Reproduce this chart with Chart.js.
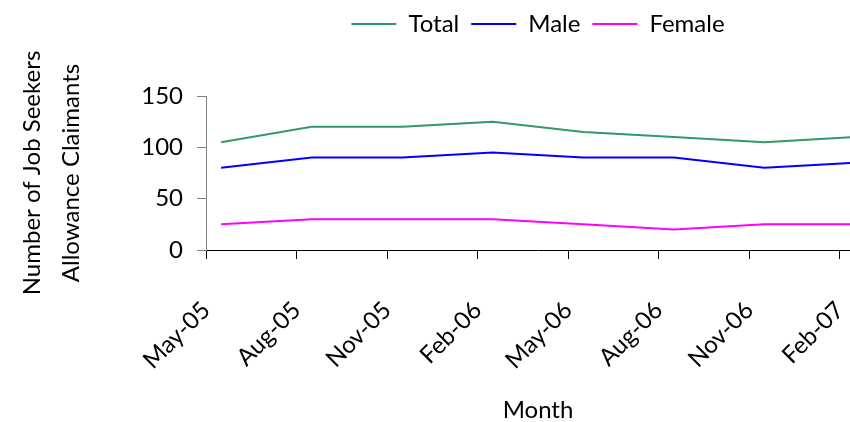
<!DOCTYPE html>
<html>
<head>
<meta charset="utf-8">
<script src="https://cdn.jsdelivr.net/npm/chart.js@4"></script>
<style>
    html, body { margin: 0; padding: 0; background: #fff; overflow: hidden; }
    #wrap { width: 900px; height: 422px; }
</style>
</head>
<body>
<div id="wrap"><canvas id="claimantsChart" width="900" height="422"></canvas></div>
<script>
// Quarterly axis labels, placed at month offsets from May-05
const tickLabels = ['May-05', 'Aug-05', 'Nov-05', 'Feb-06', 'May-06', 'Aug-06', 'Nov-06', 'Feb-07'];
const tickMonths = [0, 3, 6, 9, 12, 15, 18, 21];

// Counts are taken mid-month
const pointMonths = [0.5, 3.5, 6.5, 9.5, 12.5, 15.5, 18.5, 21.5];
const totalClaimants = [105, 120, 120, 125, 115, 110, 105, 110];
const maleClaimants = [80, 90, 90, 95, 90, 90, 80, 85];
const femaleClaimants = [25, 30, 30, 30, 25, 20, 25, 25];

function toPoints(values) {
    return values.map((v, i) => ({ x: pointMonths[i], y: v }));
}

document.addEventListener('DOMContentLoaded', function () {
    Chart.defaults.font.family = 'Lato, "Open Sans", sans-serif';
    Chart.defaults.font.size = 24;
    Chart.defaults.color = '#000';

    // leave room between the legend and the plot
    const legendSpacer = {
        id: 'legendSpacer',
        beforeInit(chart) {
            const originalFit = chart.legend.fit;
            chart.legend.fit = function fit() {
                originalFit.bind(chart.legend)();
                this.height += 50;
            };
        }
    };

    const ctx = document.getElementById('claimantsChart').getContext('2d');
    new Chart(ctx, {
        type: 'line',
        data: {
            datasets: [{
                label: 'Total',
                data: toPoints(totalClaimants),
                borderColor: '#339966',
                backgroundColor: '#339966',
                borderWidth: 2,
                pointRadius: 0,
                tension: 0
            }, {
                label: 'Male',
                data: toPoints(maleClaimants),
                borderColor: '#0000ff',
                backgroundColor: '#0000ff',
                borderWidth: 2,
                pointRadius: 0,
                tension: 0
            }, {
                label: 'Female',
                data: toPoints(femaleClaimants),
                borderColor: '#ff00ff',
                backgroundColor: '#ff00ff',
                borderWidth: 2,
                pointRadius: 0,
                tension: 0
            }]
        },
        options: {
            responsive: false,
            animation: false,
            devicePixelRatio: 1,
            layout: {
                padding: { left: 0, right: 30, top: 0, bottom: 0 }
            },
            scales: {
                x: {
                    type: 'linear',
                    min: 0,
                    max: 22,
                    afterBuildTicks: (scale) => {
                        scale.ticks = tickMonths.map(v => ({ value: v }));
                    },
                    afterFit: (scale) => {
                        scale.height = 172;
                    },
                    ticks: {
                        autoSkip: false,
                        minRotation: 45,
                        maxRotation: 45,
                        padding: 37,
                        callback: (value) => tickLabels[tickMonths.indexOf(value)]
                    },
                    grid: {
                        drawOnChartArea: false,
                        drawTicks: true,
                        tickLength: 9,
                        tickColor: '#000'
                    },
                    border: { color: '#000', width: 1 },
                    title: {
                        display: true,
                        text: 'Month',
                        font: { size: 24, lineHeight: 1 },
                        padding: 0
                    }
                },
                y: {
                    min: 0,
                    max: 150,
                    afterFit: (scale) => {
                        scale.width = 206;
                    },
                    ticks: {
                        stepSize: 50,
                        padding: 14
                    },
                    grid: {
                        drawOnChartArea: false,
                        drawTicks: true,
                        tickLength: 9,
                        tickColor: '#808080'
                    },
                    border: { color: '#808080', width: 1 },
                    title: {
                        display: true,
                        text: ['Number of Job Seekers', 'Allowance Claimants'],
                        font: { size: 24, lineHeight: 1.65 },
                        padding: { top: 12 }
                    }
                }
            },
            plugins: {
                legend: {
                    position: 'top',
                    fullSize: false,
                    labels: {
                        boxWidth: 45,
                        boxHeight: 2,
                        padding: 12,
                        generateLabels: (chart) => {
                            const items = Chart.defaults.plugins.legend.labels.generateLabels(chart);
                            items.forEach(item => { item.lineWidth = 0; });
                            return items;
                        }
                    }
                },
                tooltip: { enabled: false }
            }
        },
        plugins: [legendSpacer]
    });
});
</script>
</body>
</html>
